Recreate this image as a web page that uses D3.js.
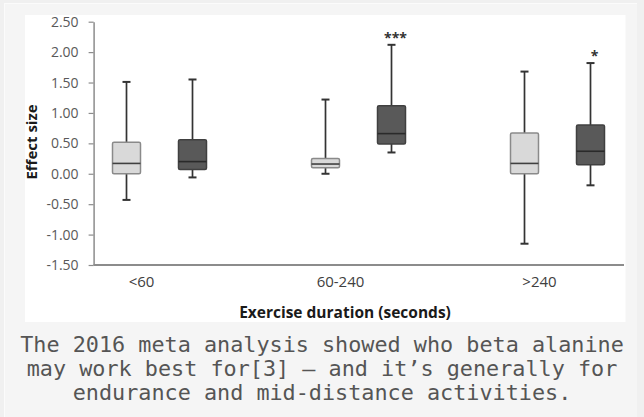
<!DOCTYPE html>
<html>
<head>
<meta charset="utf-8">
<script src="https://cdnjs.cloudflare.com/ajax/libs/d3/7.8.5/d3.min.js"></script>
<style>
  html, body { margin: 0; padding: 0; background: #f0f0f0; }
  #frame { position: absolute; left: 4px; top: 3px; width: 632px; height: 414px; background: #f5f5f5; border-top: 1px solid #fbfbfb; border-left: 1px solid #fbfbfb; }
  svg { position: absolute; left: 0; top: 0; }
</style>
</head>
<body>
<div id="frame"></div>
<svg id="chart" width="644" height="417"></svg>
<script>
// box plot de l'effet par durée d'exercice
const categories = ['<60', '60-240', '>240'];
const series = ['light', 'dark'];

const lightMin = [-0.43, 0.00, -1.15];
const lightQ1  = [0.00, 0.10, 0.00];
const lightMed = [0.17, 0.16, 0.17];
const lightQ3  = [0.52, 0.25, 0.67];
const lightMax = [1.51, 1.22, 1.68];

const darkMin = [-0.06, 0.35, -0.19];
const darkQ1  = [0.07, 0.49, 0.15];
const darkMed = [0.20, 0.66, 0.37];
const darkQ3  = [0.56, 1.12, 0.80];
const darkMax = [1.55, 2.12, 1.82];

const sigLabels = ['', '***', '*'];
const yTicks = [-1.5, -1.0, -0.5, 0, 0.5, 1.0, 1.5, 2.0, 2.5];

const captionLines = [
  'The 2016 meta analysis showed who beta alanine',
  'may work best for[3] \u2014 and it\u2019s generally for',
  'endurance and mid-distance activities.'
];

const svg = d3.select('#chart');
const plotL = 93.6, plotR = 624, plotT = 21.7, plotB = 265;
const font = "'Open Sans', sans-serif";

// zone blanche du graphique
svg.append('rect')
  .attr('x', 25).attr('y', 15).attr('width', 600.5).attr('height', 307)
  .attr('fill', '#ffffff');

const y = d3.scaleLinear().domain([-1.5, 2.5]).range([plotB, plotT]);
const x = d3.scaleBand().domain(categories).range([60, 657]);
const xs = d3.scaleBand().domain(series).range([-66, 66]);
const boxW = 28;

const boxes = [];
categories.forEach((c, i) => {
  boxes.push({ cat: c, s: 'light', min: lightMin[i], q1: lightQ1[i], med: lightMed[i], q3: lightQ3[i], max: lightMax[i], sig: '' });
  boxes.push({ cat: c, s: 'dark', min: darkMin[i], q1: darkQ1[i], med: darkMed[i], q3: darkQ3[i], max: darkMax[i], sig: sigLabels[i] });
});
const cx = d => x(d.cat) + x.bandwidth() / 2 + xs(d.s) + xs.bandwidth() / 2;

// axe Y
const yAxis = svg.append('g')
  .attr('transform', `translate(${plotL},0)`)
  .call(d3.axisLeft(y).tickValues(yTicks).tickSize(5).tickSizeOuter(0).tickPadding(10)
    .tickFormat(v => d3.format('.2f')(v).replace('\u2212', '-')));
yAxis.select('.domain').attr('stroke', '#8c8c8c').attr('stroke-width', 1.5);
yAxis.selectAll('.tick line').attr('stroke', '#8c8c8c').attr('stroke-width', 1.2);
yAxis.selectAll('.tick text')
  .attr('fill', '#595959')
  .style('font-family', font)
  .style('font-size', '14px');

// axe X
const xAxis = svg.append('g')
  .attr('transform', `translate(0,${plotB})`)
  .call(d3.axisBottom(x).tickSize(0).tickPadding(11));
xAxis.select('.domain').remove();
xAxis.selectAll('.tick text')
  .attr('dx', -18)
  .attr('fill', '#404040')
  .style('font-family', font)
  .style('font-size', '15px');
svg.append('line')
  .attr('x1', plotL).attr('x2', plotR)
  .attr('y1', y(-1.5)).attr('y2', y(-1.5))
  .attr('stroke', '#8c8c8c').attr('stroke-width', 2);

// moustaches
const g = svg.append('g');
g.selectAll('line.whiskTop').data(boxes).join('line')
  .attr('x1', cx).attr('x2', cx)
  .attr('y1', d => y(d.q3)).attr('y2', d => y(d.max))
  .attr('stroke', '#333').attr('stroke-width', 1.7);
g.selectAll('line.whiskBot').data(boxes).join('line')
  .attr('x1', cx).attr('x2', cx)
  .attr('y1', d => y(d.q1)).attr('y2', d => y(d.min))
  .attr('stroke', '#333').attr('stroke-width', 1.7);
['max', 'min'].forEach(k => {
  g.append('g').selectAll('line').data(boxes).join('line')
    .attr('x1', d => cx(d) - 4).attr('x2', d => cx(d) + 4)
    .attr('y1', d => y(d[k])).attr('y2', d => y(d[k]))
    .attr('stroke', '#333').attr('stroke-width', 2);
});

// boîtes
const bx = svg.append('g');
bx.selectAll('rect').data(boxes).join('rect')
  .attr('x', d => cx(d) - boxW / 2)
  .attr('y', d => y(d.q3))
  .attr('width', boxW)
  .attr('height', d => y(d.q1) - y(d.q3))
  .attr('rx', 1.5)
  .attr('fill', d => d.s === 'light' ? '#d9d9d9' : '#595959')
  .attr('stroke', d => d.s === 'light' ? '#8a8a8a' : '#404040')
  .attr('stroke-width', 1.5);
bx.selectAll('line').data(boxes).join('line')
  .attr('x1', d => cx(d) - boxW / 2).attr('x2', d => cx(d) + boxW / 2)
  .attr('y1', d => y(d.med)).attr('y2', d => y(d.med))
  .attr('stroke', d => d.s === 'light' ? '#404040' : '#2a2a2a')
  .attr('stroke-width', 1.6);

// étoiles de significativité
svg.append('g').selectAll('text').data(boxes.filter(d => d.sig)).join('text')
  .attr('x', d => cx(d) + 4)
  .attr('y', d => y(d.max) - 2)
  .attr('text-anchor', 'middle')
  .attr('fill', '#333')
  .style('font-family', font)
  .style('font-weight', 'bold')
  .style('font-size', '14px')
  .text(d => d.sig);

// titres des axes
svg.append('text')
  .attr('x', 345).attr('y', 318)
  .attr('text-anchor', 'middle')
  .attr('fill', '#1a1a1a')
  .style('font-family', font)
  .style('font-weight', 'bold')
  .style('font-size', '15.5px')
  .text('Exercise duration (seconds)');
svg.append('text')
  .attr('transform', 'translate(37,142) rotate(-90)')
  .attr('text-anchor', 'middle')
  .attr('fill', '#1a1a1a')
  .style('font-family', font)
  .style('font-weight', 'bold')
  .style('font-size', '15px')
  .text('Effect size');

// légende sous l'image
svg.append('g').selectAll('text').data(captionLines).join('text')
  .attr('x', 322)
  .attr('y', (d, i) => 352 + i * 24)
  .attr('text-anchor', 'middle')
  .attr('fill', '#555')
  .style('font-family', "'DejaVu Sans Mono', monospace")
  .style('font-size', '21.8px')
  .text(d => d);
</script>
</body>
</html>
